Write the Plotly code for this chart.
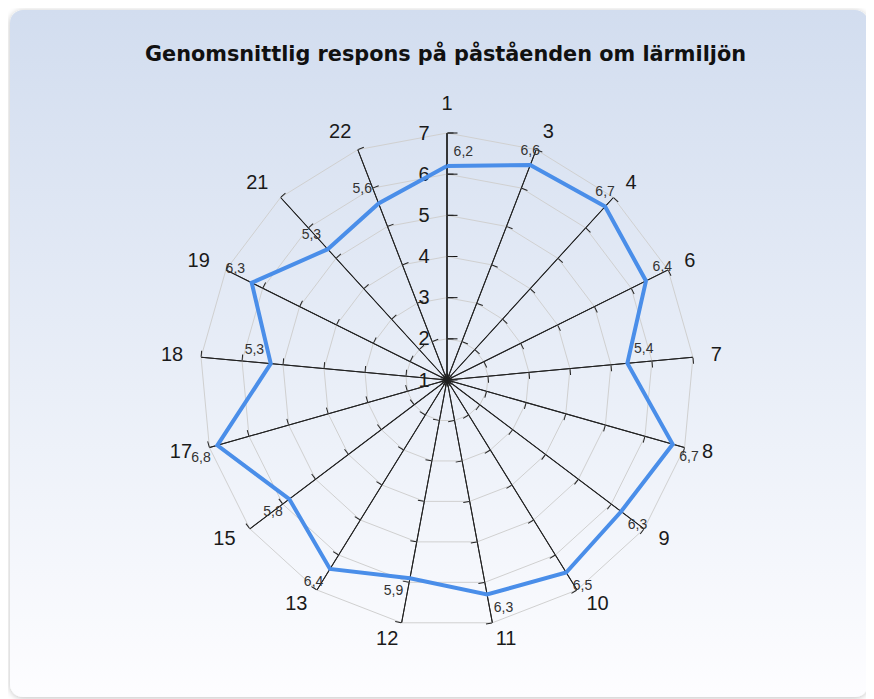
import base64
import math
import plotly.graph_objects as go

# ---------------- data ----------------
categories = ['1', '3', '4', '6', '7', '8', '9', '10', '11', '12', '13',
              '15', '17', '18', '19', '21', '22']
values = [6.2, 6.6, 6.7, 6.4, 5.4, 6.7, 6.3, 6.5, 6.3, 5.9, 6.4,
          5.8, 6.8, 5.3, 6.3, 5.3, 5.6]
radial_ticks = [1, 2, 3, 4, 5, 6, 7]
title_text = "Genomsnittlig respons på påståenden om lärmiljön"

value_text = [f"{v:.1f}".replace('.', ',') for v in values]
label_positions = ['top right', 'top center', 'top center', 'top right', 'top right',
                   'bottom right', 'bottom right', 'bottom right', 'bottom right',
                   'bottom left', 'bottom left', 'bottom left', 'bottom left',
                   'top left', 'top left', 'top left', 'top left']

# ---------------- layout geometry ----------------
# the page body adds an 8px margin, so the figure is 8px smaller and shifted
OFF = 8
W, H = 874 - OFF, 699 - OFF
cx, cy, R = 447 - OFF, 380 - OFF, 247
rmin, rmax = 1, 7
n = len(categories)


def domain(radius):
    return dict(x=[(cx - radius) / W, (cx + radius) / W],
                y=[(H - cy - radius) / H, (H - cy + radius) / H])


dom = domain(R)
# the top subplot has a larger range (to 8) and a proportionally larger domain,
# so its scale matches the grid while leaving room for the category labels
top_rmax = 8
dom_top = domain(R * (top_rmax - rmin) / (rmax - rmin))
# category labels anchored ~18px outside the outer ring, text pushed outward
label_r = rmax + (rmax - rmin) * 18 / R
cat_positions = []
for i in range(n):
    c = math.cos(math.radians(90 - i * 360 / n))
    s = math.sin(math.radians(90 - i * 360 / n))
    if c > 0.05:
        cat_positions.append('middle right')
    elif c < -0.05:
        cat_positions.append('middle left')
    else:
        cat_positions.append('top center' if s > 0 else 'bottom center')

# background panel (gradient, rounded corners, soft shadow)
svg = f'''<svg xmlns="http://www.w3.org/2000/svg" width="{W}" height="{H}" viewBox="0 0 {W} {H}" preserveAspectRatio="none">
<defs>
<linearGradient id="g" x1="0" y1="0" x2="0" y2="1">
<stop offset="0" stop-color="#d2ddef"/>
<stop offset="1" stop-color="#fdfdff"/>
</linearGradient>
<filter id="s" x="-5%" y="-5%" width="110%" height="110%">
<feGaussianBlur in="SourceAlpha" stdDeviation="3"/>
<feOffset dx="0" dy="1" result="b"/>
<feComponentTransfer><feFuncA type="linear" slope="0.25"/></feComponentTransfer>
<feMerge><feMergeNode/><feMergeNode in="SourceGraphic"/></feMerge>
</filter>
</defs>
<rect x="{10 - OFF}" y="{10 - OFF}" width="858" height="687" rx="13" ry="13" fill="url(#g)" filter="url(#s)"/>
</svg>'''
bg_uri = "data:image/svg+xml;base64," + base64.b64encode(svg.encode()).decode()

fig = go.Figure()

# polar 1: grid, spokes, radial tick labels
fig.add_trace(go.Scatterpolar(r=values, theta=categories, mode='lines',
                              line=dict(color='rgba(0,0,0,0)', width=0),
                              hoverinfo='skip', showlegend=False, subplot='polar'))

layout_polars = {}
layout_polars['polar'] = dict(
    domain=dom,
    bgcolor='rgba(0,0,0,0)',
    gridshape='linear',
    angularaxis=dict(type='category', rotation=90, direction='clockwise',
                     showgrid=True, gridcolor='#222222', gridwidth=1,
                     showline=True, linecolor='#d0d0d0', linewidth=1,
                     ticks='', showticklabels=False),
    radialaxis=dict(range=[rmin, rmax], angle=90, tickangle=90,
                    tickvals=radial_ticks, ticktext=[f"{t}\u2002" for t in radial_ticks],
                    showgrid=True, gridcolor='#d0d0d0', gridwidth=1,
                    showline=True, linecolor='#111111', linewidth=1,
                    ticks='inside', ticklen=10, tickcolor='#111111',
                    side='counterclockwise',
                    tickfont=dict(family='Liberation Sans, Arial', size=20, color='#1a1a1a')),
)

# polars 2..n+1: tick marks along every spoke
for i in range(n):
    name = f'polar{i + 2}'
    fig.add_trace(go.Scatterpolar(r=[rmin], theta=[0], mode='markers',
                                  marker=dict(opacity=0), hoverinfo='skip',
                                  showlegend=False, subplot=name))
    layout_polars[name] = dict(
        domain=dom,
        bgcolor='rgba(0,0,0,0)',
        angularaxis=dict(visible=False),
        radialaxis=dict(range=[rmin, rmax], angle=90 - i * 360 / n,
                        tickvals=radial_ticks, showticklabels=False,
                        showgrid=False, showline=True, linecolor='#222222', linewidth=1,
                        ticks='inside', ticklen=6, tickcolor='#222222',
                        side='counterclockwise'),
    )

# top polar: data line, value labels, category labels
top = f'polar{n + 2}'
fig.add_trace(go.Scatterpolar(r=values + values[:1], theta=categories + categories[:1],
                              mode='lines', line=dict(color='#4a8ee9', width=4),
                              hoverinfo='skip', showlegend=False, subplot=top))
fig.add_trace(go.Scatterpolar(r=values, theta=categories, mode='markers+text',
                              text=value_text, textposition=label_positions,
                              marker=dict(size=9, color='rgba(0,0,0,0)'),
                              textfont=dict(family='Liberation Sans, Arial', size=14, color='#333333'),
                              hoverinfo='skip', showlegend=False, subplot=top))
fig.add_trace(go.Scatterpolar(r=[label_r] * n, theta=categories, mode='text',
                              text=categories, textposition=cat_positions,
                              cliponaxis=False,
                              textfont=dict(family='Liberation Sans, Arial', size=20, color='#1a1a1a'),
                              hoverinfo='skip', showlegend=False, subplot=top))
layout_polars[top] = dict(
    domain=dom_top,
    bgcolor='rgba(0,0,0,0)',
    angularaxis=dict(type='category', rotation=90, direction='clockwise', visible=False),
    radialaxis=dict(range=[rmin, top_rmax], visible=False),
)

fig.update_layout(**layout_polars)
fig.update_layout(
    width=W, height=H,
    margin=dict(l=0, r=0, t=0, b=0),
    paper_bgcolor='white',
    showlegend=False,
    images=[dict(source=bg_uri, xref='paper', yref='paper', x=0, y=1,
                 sizex=1, sizey=1, sizing='stretch', xanchor='left', yanchor='top',
                 layer='below')],
    annotations=[dict(text=f"<b>{title_text}</b>", xref='paper', yref='paper',
                      x=(445 - OFF) / W, y=1 - (53 - OFF) / H, xanchor='center', yanchor='middle',
                      showarrow=False,
                      font=dict(family='DejaVu Sans', size=20.8, color='#111111'))],
)

fig.write_html("out.html")
